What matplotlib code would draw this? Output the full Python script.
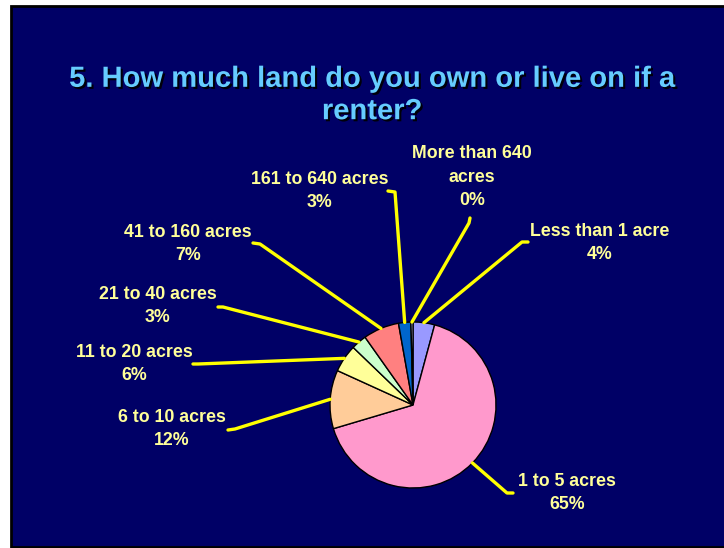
import matplotlib
matplotlib.use("Agg")
import matplotlib.pyplot as plt
from matplotlib.patches import Rectangle
import matplotlib.patheffects as pe
import numpy as np

# ---- data ----
categories = ["Less than 1 acre", "1 to 5 acres", "6 to 10 acres", "11 to 20 acres",
              "21 to 40 acres", "41 to 160 acres", "161 to 640 acres", "More than 640\nacres"]
values = [4.2, 66.2, 11.4, 5.4, 3.0, 7.0, 2.4, 0.4]
pct_labels = ["4%", "65%", "12%", "6%", "3%", "7%", "3%", "0%"]
colors = ["#9999FF", "#FF99CC", "#FFCC99", "#FFFF99", "#CCFFCC", "#FF8080", "#0066CC", "#CCCCFF"]
title = "5. How much land do you own or live on if a\nrenter?"

# ---- layout (image pixel coords, y down) ----
W, H = 724, 548
label_pos = [(600, 243), (567, 493), (172, 429), (134, 364),
             (158, 306), (188, 244), (320, 191), (472, 177)]
elbows = [((522, 242), (528, 242)), ((507, 493), (513, 493)), ((235, 429), (228, 430)),
          ((198, 364), (193, 364)), ((223, 307), (218, 307)), ((260, 244), (253, 243)),
          ((395, 192), (388, 191)), ((469, 223), (470, 218))]
center = (413, 405)
radius = 83

def Y(y):
    return H - y

fig = plt.figure(figsize=(W / 100, H / 100), dpi=100, facecolor="white")
ax = fig.add_axes([0, 0, 1, 1])
ax.set_xlim(0, W)
ax.set_ylim(0, H)
ax.set_aspect("equal")
ax.axis("off")

# background panel
ax.add_patch(Rectangle((11, Y(547)), W - 11 + 5, 547 - 5.5, facecolor="#000066",
                       edgecolor="black", linewidth=2, zorder=0))

# title
ax.text(372, Y(95), title, ha="center", va="center", fontsize=21, fontweight="bold",
        family="Liberation Sans", color="#66CCFF", linespacing=1.2,
        path_effects=[pe.withSimplePatchShadow(offset=(1.5, -1.5), shadow_rgbFace="black", alpha=0.9)])

# pie
wedges, _ = ax.pie(values, colors=colors, startangle=90, counterclock=False,
                   center=(center[0], Y(center[1])), radius=radius,
                   wedgeprops=dict(edgecolor="black", linewidth=1), frame=True)
ax.set_xlim(0, W)
ax.set_ylim(0, H)
ax.axis("off")

# leader lines and labels
for w, cat, pct, (lx, ly), (el, end) in zip(wedges, categories, pct_labels, label_pos, elbows):
    ang = np.deg2rad((w.theta1 + w.theta2) / 2)
    px = w.center[0] + w.r * np.cos(ang)
    py = w.center[1] + w.r * np.sin(ang)
    ax.plot([px, el[0], end[0]], [py, Y(el[1]), Y(end[1])], color="#FFFF00", lw=2.4,
            solid_capstyle="round", solid_joinstyle="round", zorder=1)
    ax.text(lx, Y(ly), cat + "\n" + pct, ha="center", va="center", fontsize=12.8,
            fontweight="bold", family="Liberation Sans", color="#FFFF99", linespacing=1.5)

fig.savefig("out.png", dpi=100, facecolor="white")
